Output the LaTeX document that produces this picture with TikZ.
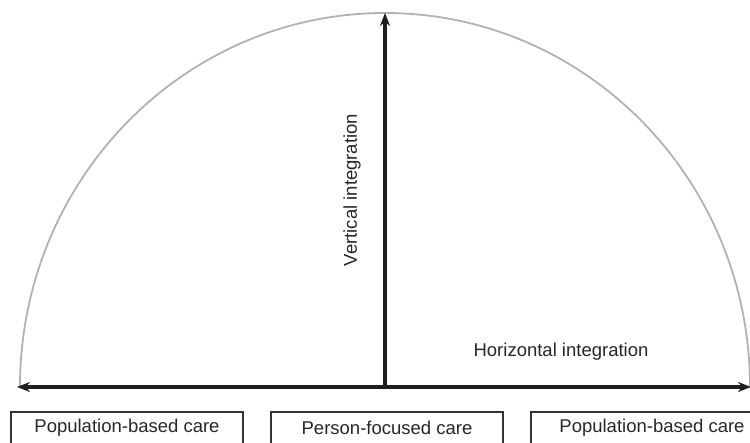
\documentclass[tikz,border=0pt]{standalone}
\usepackage{fontspec}
\setmainfont{Liberation Sans}
\usetikzlibrary{arrows.meta}
\begin{document}
\begin{tikzpicture}[x=1pt,y=-1pt,
  tip/.style={Stealth[length=13pt,width=10pt]},
  axis/.style={line width=3.4pt,draw=black!88},
  arcline/.style={line width=1.8pt,draw=black!30},
  carebox/.style={draw=black!80,line width=1.8pt,minimum width=232pt,minimum height=36pt,anchor=north,inner sep=0pt},
  lbl/.style={font=\fontsize{18.5}{21}\selectfont,text=black!85,inner sep=0pt}]
\useasboundingbox (0,0) rectangle (750,443);
\clip (0,0) rectangle (750,443);
\coordinate (O) at (385,387);
\coordinate (T) at (385,13);
\coordinate (L) at (17,387);
\coordinate (R) at (751,387);
\draw[arcline] (20,387) arc[start angle=180,end angle=0,x radius=365,y radius=-374];
\draw[axis,-{Stealth[length=13pt,width=10pt]}] (O) -- (T);
\draw[axis,{Stealth[length=13pt,width=10pt]}-{Stealth[length=13pt,width=10pt]}] (L) -- (R);
\node[lbl,rotate=90] (vi) at (352,190) {Vertical integration};
\node[lbl] (hi) at (561,352) {Horizontal integration};
\node[carebox] (b1) at (127,411) {};
\node[carebox] (b2) at (387,411) {};
\node[carebox] (b3) at (647,411) {};
\node[lbl] (t1) at (127,428) {Population-based care};
\node[lbl] (t2) at (387,428) {Person-focused care};
\node[lbl] (t3) at (652,428) {Population-based care};
\end{tikzpicture}
\end{document}
